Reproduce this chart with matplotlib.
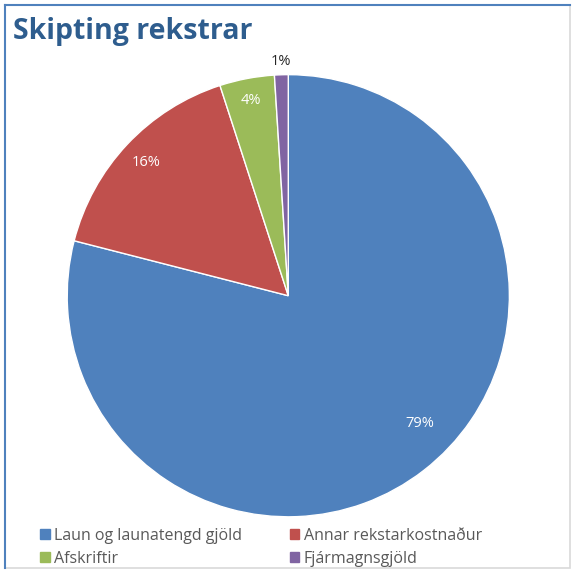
import numpy as np
import matplotlib.pyplot as plt
from matplotlib.patches import Rectangle

labels = ["Laun og launatengd gjöld", "Annar rekstarkostnaður", "Afskriftir", "Fjármagnsgjöld"]
values = [79, 16, 4, 1]
colors = ["#4F81BD", "#C0504D", "#9BBB59", "#8064A2"]

plt.rcParams['font.family'] = ['Open Sans', 'DejaVu Sans']

fig = plt.figure(figsize=(5.72, 5.72), dpi=100)

# outer frame like the screenshot
fig.patches.append(Rectangle((0.009, 0.007), 0.988, 0.985, transform=fig.transFigure,
                             fill=False, edgecolor="#D9D9D9", linewidth=1.2))
fig.add_artist(plt.Line2D([0.009, 0.997], [0.992, 0.992], color="#4F81BD", linewidth=1.5))
fig.add_artist(plt.Line2D([0.009, 0.009], [0.007, 0.992], color="#4F81BD", linewidth=1.5))

ax = fig.add_axes([0.1175, 0.0965, 0.773, 0.773])
wedges, texts, autotexts = ax.pie(values, colors=colors, startangle=90, counterclock=False,
                                  autopct='%.0f%%', pctdistance=0.88,
                                  wedgeprops=dict(edgecolor="white", linewidth=1))
ax.set_xlim(-1, 1)
ax.set_ylim(-1, 1)
ax.set_aspect('equal')

# label placement (radius, angle offset in degrees)
place = [(0.83, 8), (0.88, 0), (0.9, 0), (1.06, 0)]
for w, t, (r, off) in zip(wedges, autotexts, place):
    ang = np.deg2rad((w.theta1 + w.theta2) / 2 + off)
    t.set_position((r * np.cos(ang), r * np.sin(ang)))
    t.set_fontsize(10.5)
    t.set_color("white")
autotexts[3].set_color("#262626")

fig.text(0.022, 0.945, "Skipting rekstrar", fontsize=20.5, fontweight='bold', color="#2E5D8E",
         va='center', ha='left')

# legend filled row by row like the original
order = [0, 2, 1, 3]
handles = [Rectangle((0, 0), 1, 1, color=colors[i]) for i in order]
fig.legend(handles, [labels[i] for i in order], loc='lower left', bbox_to_anchor=(0.045, -0.016),
           ncol=2, frameon=False, fontsize=11.5, labelcolor="#595959", handlelength=0.6,
           handleheight=0.6, handletextpad=0.3, columnspacing=2.95, labelspacing=0.45)

fig.savefig("out.png", dpi=100)
